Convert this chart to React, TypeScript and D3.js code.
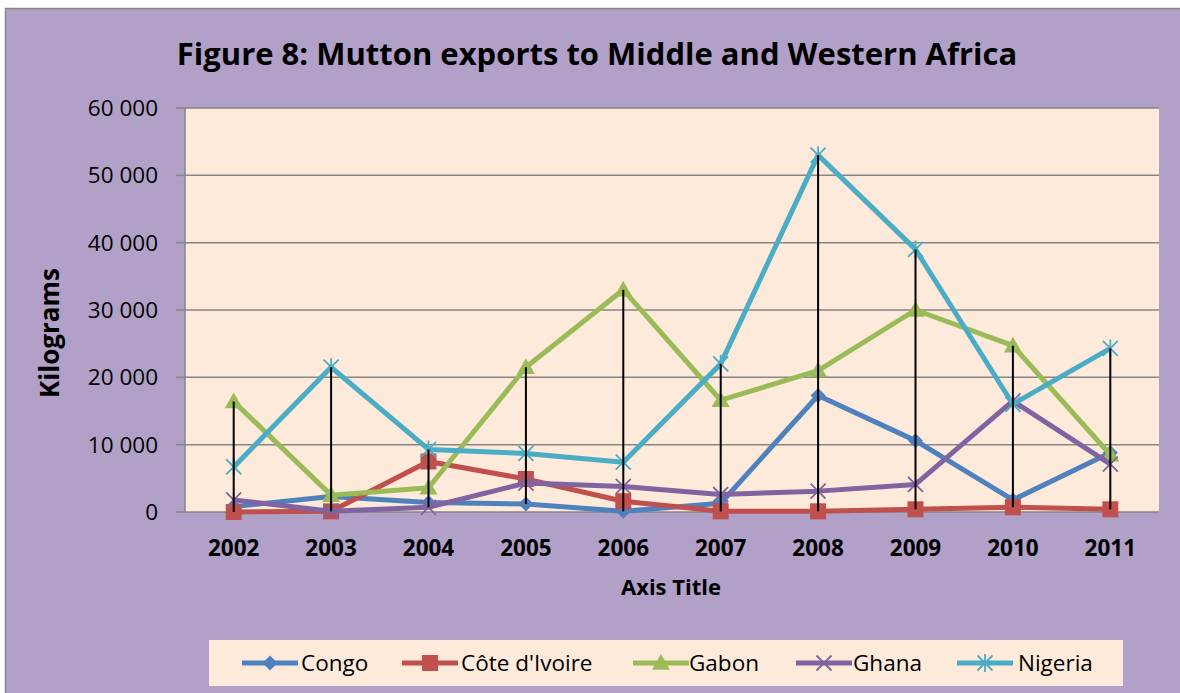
import React from "react";
import * as d3 from "d3";

const years = ["2002", "2003", "2004", "2005", "2006", "2007", "2008", "2009", "2010", "2011"];
const congo = [800, 2300, 1400, 1200, 100, 1300, 17300, 10600, 1800, 8800];
const coteDIvoire = [0, 100, 7500, 4900, 1600, 100, 100, 400, 700, 400];
const gabon = [16400, 2500, 3600, 21500, 33000, 16600, 21000, 30000, 24700, 8500];
const ghana = [1800, 100, 700, 4300, 3800, 2600, 3100, 4100, 16500, 7100];
const nigeria = [6700, 21500, 9300, 8700, 7400, 22000, 53000, 39000, 16000, 24300];
const yTicks = [0, 10000, 20000, 30000, 40000, 50000, 60000];

const seriesNames = ["Congo", "Côte d'Ivoire", "Gabon", "Ghana", "Nigeria"];
const seriesValues = [congo, coteDIvoire, gabon, ghana, nigeria];
const seriesColors = ["#4F81BD", "#C0504D", "#9BBB59", "#8064A2", "#4BACC6"];
const seriesMarkers = ["diamond", "square", "triangle", "x", "star"];

const FONT = "'Open Sans', 'Noto Sans', sans-serif";

function Marker({ type, x, y, color }: { type: string; x: number; y: number; color: string }) {
  if (type === "diamond") {
    const s = 7.5;
    return <path d={`M${x},${y - s}L${x + s},${y}L${x},${y + s}L${x - s},${y}Z`} fill={color} />;
  }
  if (type === "square") {
    const s = 8;
    return <rect x={x - s} y={y - s} width={2 * s} height={2 * s} fill={color} />;
  }
  if (type === "triangle") {
    const s = 9;
    return <path d={`M${x},${y - s}L${x + s},${y + s * 0.75}L${x - s},${y + s * 0.75}Z`} fill={color} />;
  }
  if (type === "x") {
    const s = 7.5;
    return (
      <path d={`M${x - s},${y - s}L${x + s},${y + s}M${x - s},${y + s}L${x + s},${y - s}`} stroke={color} strokeWidth={1.8} />
    );
  }
  const s = 7.5;
  return (
    <path
      d={`M${x - s},${y - s}L${x + s},${y + s}M${x - s},${y + s}L${x + s},${y - s}M${x},${y - s * 1.2}L${x},${y + s * 1.2}`}
      stroke={color}
      strokeWidth={1.8}
    />
  );
}

export default function App() {
  const W = 1180;
  const H = 693;
  const left = 185;
  const right = 1159;
  const top = 108;
  const bottom = 512;

  const x = d3.scaleBand<string>().domain(years).range([left, right]).padding(0);
  const y = d3.scaleLinear().domain([0, 60000]).range([bottom, top]);
  const cx = (yr: string) => (x(yr) as number) + x.bandwidth() / 2;

  const line = d3
    .line<number>()
    .x((_, i) => cx(years[i]))
    .y((v) => y(v));

  const fmt = (v: number) => d3.format(",")(v).replace(/,/g, " ");

  const legendItems = [
    { lx: 242, tx: 301 },
    { lx: 402, tx: 461 },
    { lx: 633, tx: 689 },
    { lx: 796, tx: 853 },
    { lx: 957, tx: 1018 },
  ];

  return (
    <svg width={W} height={H} style={{ position: "absolute", left: 0, top: 0, display: "block" }}>
      <rect x={0} y={0} width={W} height={H} fill="#ffffff" />
      <rect x={5.5} y={8.5} width={W + 10} height={H + 10} fill="#B1A0C7" stroke="#868686" strokeWidth={1.5} />
      <text x={597} y={65} textAnchor="middle" fontFamily={FONT} fontWeight="bold" fontSize={31} fill="#000">
        Figure 8: Mutton exports to Middle and Western Africa
      </text>

      <rect x={left} y={top} width={right - left} height={bottom - top} fill="#FDEADA" />
      {yTicks.map((t) => (
        <g key={t}>
          <line x1={left} x2={right} y1={y(t)} y2={y(t)} stroke="#868686" strokeWidth={1.5} />
          <line x1={176} x2={left} y1={y(t)} y2={y(t)} stroke="#868686" strokeWidth={1.5} />
          <text x={158} y={y(t)} dy="0.36em" textAnchor="end" fontFamily={FONT} fontSize={22.5} fill="#000">
            {fmt(t)}
          </text>
        </g>
      ))}
      <line x1={left} x2={left} y1={top} y2={bottom} stroke="#868686" strokeWidth={1.5} />

      {years.map((yr) => (
        <text key={yr} x={cx(yr)} y={548} dy="0.36em" textAnchor="middle" fontFamily={FONT} fontWeight="bold" fontSize={22.5} fill="#000">
          {yr}
        </text>
      ))}
      <text x={671} y={587} dy="0.36em" textAnchor="middle" fontFamily={FONT} fontWeight="bold" fontSize={22} fill="#000">
        Axis Title
      </text>
      <text
        transform="translate(50,333) rotate(-90)"
        textAnchor="middle"
        dy="0.36em"
        fontFamily={FONT}
        fontWeight="bold"
        fontSize={26}
        fill="#000"
      >
        Kilograms
      </text>

      {seriesValues.map((vals, si) => (
        <g key={seriesNames[si]}>
          <path d={line(vals) || ""} fill="none" stroke={seriesColors[si]} strokeWidth={5} strokeLinejoin="round" />
          {vals.map((v, i) => (
            <Marker key={i} type={seriesMarkers[si]} x={cx(years[i])} y={y(v)} color={seriesColors[si]} />
          ))}
        </g>
      ))}

      {years.map((yr, i) => {
        const vs = seriesValues.map((s) => s[i]);
        return (
          <line
            key={yr}
            x1={cx(yr)}
            x2={cx(yr)}
            y1={y(d3.max(vs) as number)}
            y2={y(d3.min(vs) as number)}
            stroke="#000"
            strokeWidth={2}
          />
        );
      })}

      <rect x={209} y={640} width={914} height={46} fill="#FDEADA" />
      {seriesNames.map((n, si) => {
        const it = legendItems[si];
        const ly = 663;
        return (
          <g key={n}>
            <line x1={it.lx} x2={it.lx + 56} y1={ly} y2={ly} stroke={seriesColors[si]} strokeWidth={5} />
            <Marker type={seriesMarkers[si]} x={it.lx + 28} y={ly} color={seriesColors[si]} />
            <text x={it.tx} y={ly} dy="0.36em" fontFamily={FONT} fontSize={22.5} fill="#000">
              {n}
            </text>
          </g>
        );
      })}
    </svg>
  );
}
